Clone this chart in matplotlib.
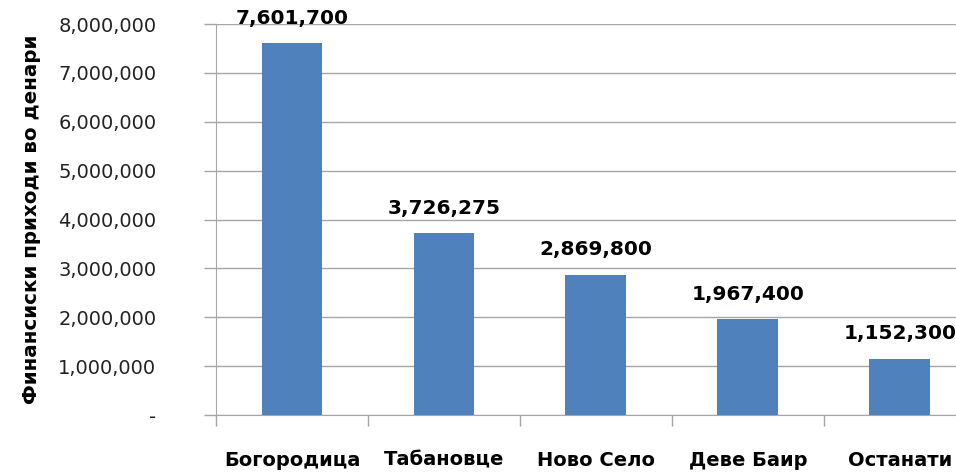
import matplotlib.pyplot as plt
from matplotlib.ticker import FuncFormatter

# податоци
categories = ["Богородица", "Табановце", "Ново Село", "Деве Баир", "Останати"]
values = [7601700, 3726275, 2869800, 1967400, 1152300]
y_ticks = [0, 1000000, 2000000, 3000000, 4000000, 5000000, 6000000, 7000000, 8000000]

plt.rcParams['font.family'] = ['DejaVu Sans']

fig = plt.figure(figsize=(9.56, 4.74), dpi=100)
ax = fig.add_axes([216 / 956, 59 / 474, (956 - 216) / 956, (415 - 24) / 474])

x = list(range(len(categories)))
bars = ax.bar(x, values, width=0.4, color="#4F81BD", zorder=3)

ax.set_yticks(y_ticks)
ax.yaxis.set_major_formatter(FuncFormatter(lambda v, p: "-" if v == 0 else f"{int(v):,}"))
ax.grid(axis="y", color="#a6a6a6", linewidth=1, zorder=0)

# x ticks at category boundaries, labels at centres (same baseline)
ax.set_xticks([i - 0.5 for i in x] + [4.5])
ax.set_xticklabels([])
ax.tick_params(axis="x", which="major", length=8, color="#a6a6a6", width=1)
ax.tick_params(axis="y", length=9, color="#a6a6a6", width=1, labelsize=14, pad=34, labelcolor="#222222")
for i, c in zip(x, categories):
    ax.text(i, -0.13, c, transform=ax.get_xaxis_transform(), ha="center", va="baseline",
            fontsize=14, fontweight="bold")

ax.set_ylim(0, 8000000)
ax.set_xlim(-0.5, 4.37)

for s in ["top", "right"]:
    ax.spines[s].set_visible(False)
for s in ["left", "bottom"]:
    ax.spines[s].set_color("#a6a6a6")

for b, v in zip(bars, values):
    ax.annotate(f"{v:,}", (b.get_x() + b.get_width() / 2, v), xytext=(0, 11),
                textcoords="offset points", ha="center", va="bottom",
                fontsize=14.5, fontweight="bold")

ax.set_ylabel("Финансиски приходи во денари", fontsize=14.3, fontweight="bold", labelpad=12)

fig.savefig("out.png", dpi=100)
